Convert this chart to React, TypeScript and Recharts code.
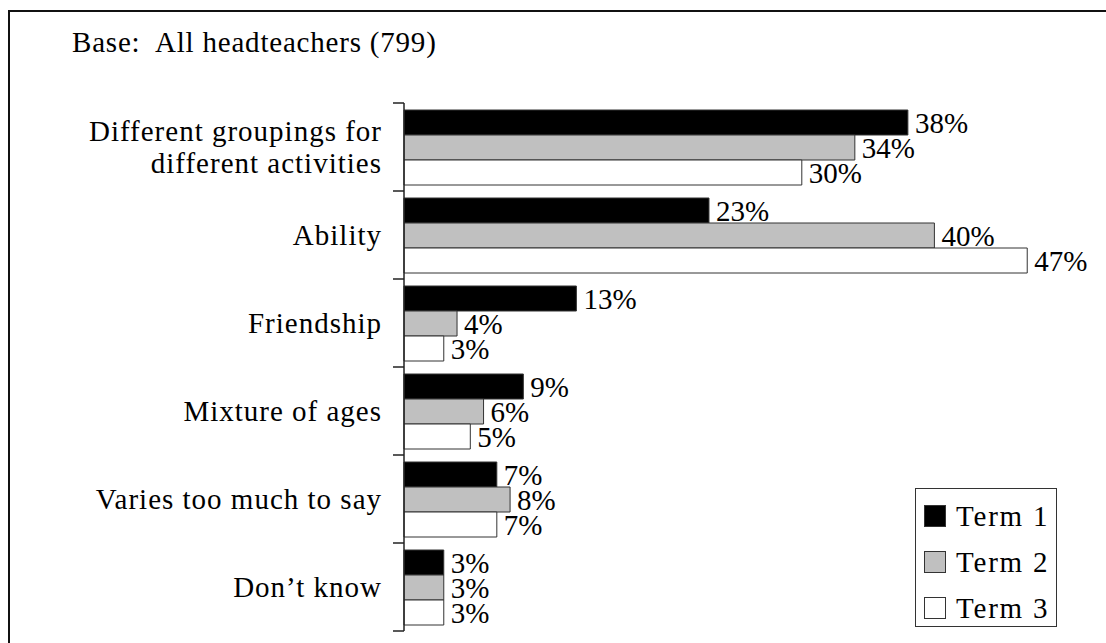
import { BarChart, Bar, XAxis, YAxis, LabelList } from 'recharts';

const categories = [
  'Different groupings for\ndifferent activities',
  'Ability',
  'Friendship',
  'Mixture of ages',
  'Varies too much to say',
  'Don\u2019t know',
];
const term1 = [38, 23, 13, 9, 7, 3];
const term2 = [34, 40, 4, 6, 8, 3];
const term3 = [30, 47, 3, 5, 7, 3];

const seriesNames = ['Term 1', 'Term 2', 'Term 3'];
const seriesColors = ['#000000', '#c0c0c0', '#ffffff'];

const WIDTH = 1106;
const HEIGHT = 643;
const MARGIN = { top: 103, right: 39, bottom: 12, left: 0 };
const Y_AXIS_WIDTH = 404;
const FONT = "'Liberation Serif', 'Times New Roman', serif";

const data = categories.map((name, i) => ({
  name,
  t1: term1[i],
  t2: term2[i],
  t3: term3[i],
}));

const band = (HEIGHT - MARGIN.top - MARGIN.bottom) / categories.length;
const axisX = MARGIN.left + Y_AXIS_WIDTH;

const CategoryTick = ({ y, payload, index }: any) => {
  const lines = String(payload.value).split('\n');
  const lineH = 32;
  const startY = y - ((lines.length - 1) * lineH) / 2;
  return (
    <g>
      <line x1={axisX - 11} x2={axisX} y1={y - band / 2} y2={y - band / 2} stroke="#222" strokeWidth={1.5} />
      {index === categories.length - 1 && (
        <line x1={axisX - 11} x2={axisX} y1={y + band / 2} y2={y + band / 2} stroke="#222" strokeWidth={1.5} />
      )}
      <text x={axisX - 22} y={startY} textAnchor="end" fontFamily={FONT} fontSize={29} letterSpacing={1} fill="#000">
        {lines.map((l, k) => (
          <tspan key={k} x={axisX - 22} dy={k === 0 ? '0.35em' : lineH}>
            {l}
          </tspan>
        ))}
      </text>
    </g>
  );
};

const LegendBox = () => (
  <div
    style={{
      position: 'absolute',
      left: 915,
      top: 488,
      border: '1px solid #333',
      width: 142,
      height: 139,
      boxSizing: 'border-box',
      padding: '4px 0 0 8px',
      background: '#fff',
      fontFamily: FONT,
      fontSize: 29,
      letterSpacing: 1.8,
      color: '#000',
    }}
  >
    {seriesNames.map((n, i) => (
      <div key={n} style={{ display: 'flex', alignItems: 'center', height: 46, lineHeight: '46px' }}>
        <span
          style={{
            display: 'inline-block',
            width: 20,
            height: 20,
            background: seriesColors[i],
            border: '1px solid #333',
            marginRight: 10,
          }}
        />
        <span>{n}</span>
      </div>
    ))}
  </div>
);

const pct = (v: any) => `${v}%`;

const App = () => {
  return (
    <div style={{ position: 'absolute', left: 0, top: 0, width: WIDTH, height: HEIGHT, background: '#fff', overflow: 'hidden' }}>
      <div
        style={{
          position: 'absolute',
          left: 8,
          top: 10,
          width: 1110,
          height: 650,
          border: '2px solid #111',
          boxSizing: 'border-box',
        }}
      />
      <div
        style={{
          position: 'absolute',
          left: 72,
          top: 24,
          fontFamily: FONT,
          fontSize: 29,
          letterSpacing: 0.8,
          whiteSpace: 'pre',
          color: '#000',
          lineHeight: '36px',
        }}
      >
        {'Base:  All headteachers (799)'}
      </div>
      <div style={{ position: 'absolute', left: 0, top: 0 }}>
        <BarChart
          width={WIDTH}
          height={HEIGHT}
          data={data}
          layout="vertical"
          margin={MARGIN}
          barCategoryGap={7}
          barGap={0}
        >
          <XAxis type="number" domain={[0, 50]} hide />
          <YAxis
            type="category"
            dataKey="name"
            width={Y_AXIS_WIDTH}
            axisLine={{ stroke: '#222', strokeWidth: 1.5 }}
            tickLine={false}
            tick={<CategoryTick />}
            interval={0}
          />
          {['t1', 't2', 't3'].map((k, i) => (
            <Bar key={k} dataKey={k} name={seriesNames[i]} fill={seriesColors[i]} stroke="#333" strokeWidth={1} isAnimationActive={false}>
              <LabelList dataKey={k} position="right" offset={7} formatter={pct} style={{ fontFamily: FONT, fontSize: 29, fill: '#000' }} />
            </Bar>
          ))}
        </BarChart>
      </div>
      <LegendBox />
    </div>
  );
};

export default App;
